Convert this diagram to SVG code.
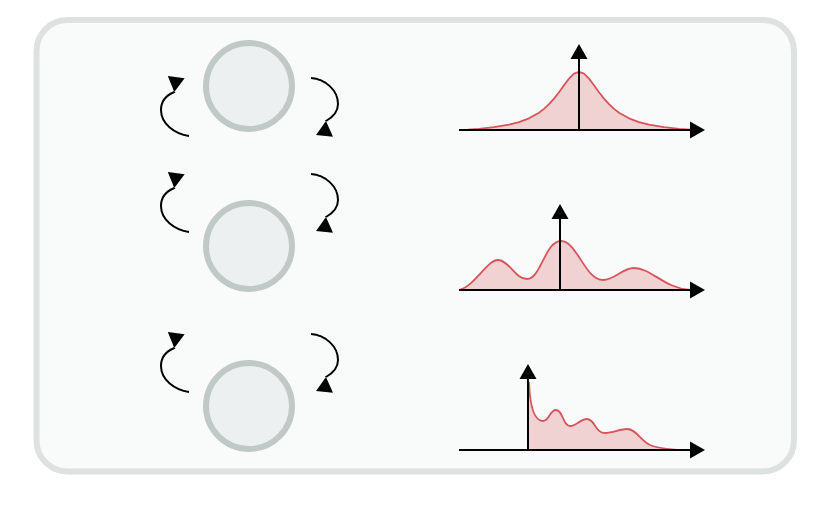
<svg xmlns="http://www.w3.org/2000/svg" width="830" height="507" viewBox="0 0 830 507">
<defs>
<style>
.frame{fill:#f9fbfa;stroke:#dde1e0;stroke-width:6}
.node{fill:#edf0f1;stroke:#c1c9c6;stroke-width:6}
.arc{fill:none;stroke:#000;stroke-width:2}
.axis{fill:none;stroke:#000;stroke-width:2}
.area{fill:#f1d2d3;stroke:none}
.curve{fill:none;stroke:#d5555a;stroke-width:1.8;stroke-linejoin:round}
</style>
<marker id="ah" markerUnits="userSpaceOnUse" markerWidth="16" markerHeight="18" refX="0" refY="8.5" orient="auto" overflow="visible">
<path d="M0,0 L15,8.5 L0,17 Z" fill="#000"/>
</marker>
<marker id="ch" markerUnits="userSpaceOnUse" markerWidth="16" markerHeight="18" refX="0" refY="0" orient="auto" overflow="visible">
<path d="M0,0 L15,-8.5 L15,8.5 Z" fill="#000"/>
</marker>
</defs>
<rect class="frame" x="36.5" y="20" width="757.5" height="451.5" rx="31" ry="31"/>

<g id="node1"><circle class="node" cx="249" cy="86" r="43"/></g>
<g id="node2"><circle class="node" cx="249" cy="246" r="43"/></g>
<g id="node3"><circle class="node" cx="249" cy="406" r="43"/></g>

<g id="connectors">
<path class="arc" marker-end="url(#ch)" d="M189,136 C175,134 161,124 161,110 C161,101 167,95 174.3,92 l0.0013,-0.01"/>
<path class="arc" marker-end="url(#ch)" d="M311,78 C325,79 338,90 338,104 C338,112 333,117 326,121 l-0.001,0.01"/>
<path class="arc" marker-end="url(#ch)" d="M189,232 C175,230 161,220 161,206 C161,197 167,191 174.3,188 l0.0013,-0.01"/>
<path class="arc" marker-end="url(#ch)" d="M311,174 C325,175 338,186 338,200 C338,208 333,213 326,217 l-0.001,0.01"/>
<path class="arc" marker-end="url(#ch)" d="M189,392 C175,390 161,380 161,366 C161,357 167,351 174.3,348 l0.0013,-0.01"/>
<path class="arc" marker-end="url(#ch)" d="M311,334 C325,335 338,346 338,360 C338,368 333,373 326,377 l-0.001,0.01"/>
</g>

<g id="chart1">
<path class="area" d="M459,130 L468,129.6 L479,128.8 L494,127.2 L509,124.65 L519,122.1 L529,118.3 L539,112.7 L544,108.9 L549,104.2 L554,98.6 L559,92.2 L564,85.2 L569,78.6 L574,73.7 L579,71.9 L584,73.7 L589,78.6 L594,85.2 L599,92.2 L604,98.6 L609,104.2 L614,108.9 L619,112.7 L629,118.3 L639,122.1 L649,124.65 L664,127.2 L679,128.8 L690,129.6 L690,130 Z"/>
<path class="curve" d="M468,129.6 L479,128.8 L494,127.2 L509,124.65 L519,122.1 L529,118.3 L539,112.7 L544,108.9 L549,104.2 L554,98.6 L559,92.2 L564,85.2 L569,78.6 L574,73.7 L579,71.9 L584,73.7 L589,78.6 L594,85.2 L599,92.2 L604,98.6 L609,104.2 L614,108.9 L619,112.7 L629,118.3 L639,122.1 L649,124.65 L664,127.2 L679,128.8 L690,129.6"/>
<line class="axis" x1="459" y1="130" x2="690" y2="130" marker-end="url(#ah)"/>
<line class="axis" x1="579" y1="130" x2="579" y2="59" marker-end="url(#ah)"/>
</g>

<g id="chart2">
<path class="area" d="M459,290 C475,286 487,260 498,260 C509,260 515,279 527,279 C541,279 545,241 561,241 C577,241 585,280 603,280 C615,280 622,268 634,268 C651,268 664,288 690,290 Z"/>
<path class="curve" d="M459,290 C475,286 487,260 498,260 C509,260 515,279 527,279 C541,279 545,241 561,241 C577,241 585,280 603,280 C615,280 622,268 634,268 C651,268 664,288 690,290"/>
<line class="axis" x1="459" y1="290" x2="690" y2="290" marker-end="url(#ah)"/>
<line class="axis" x1="560" y1="290" x2="560" y2="219" marker-end="url(#ah)"/>
</g>

<g id="chart3">
<path class="area" d="M529,382 C530,408 535,421 543,421 C549,421 550,410 556,410 C563,410 563,426 570,426 C577,426 580,419 587,419 C595,419 595,433 605,433 C613,433 620,429 627,429 C636,429 640,440 650,445 C660,449 675,450 690,450 L529,450 Z"/>
<path class="curve" d="M529,382 C530,408 535,421 543,421 C549,421 550,410 556,410 C563,410 563,426 570,426 C577,426 580,419 587,419 C595,419 595,433 605,433 C613,433 620,429 627,429 C636,429 640,440 650,445 C660,449 675,450 690,450"/>
<line class="axis" x1="459" y1="450" x2="690" y2="450" marker-end="url(#ah)"/>
<line class="axis" x1="528" y1="450" x2="528" y2="379" marker-end="url(#ah)"/>
</g>
</svg>
